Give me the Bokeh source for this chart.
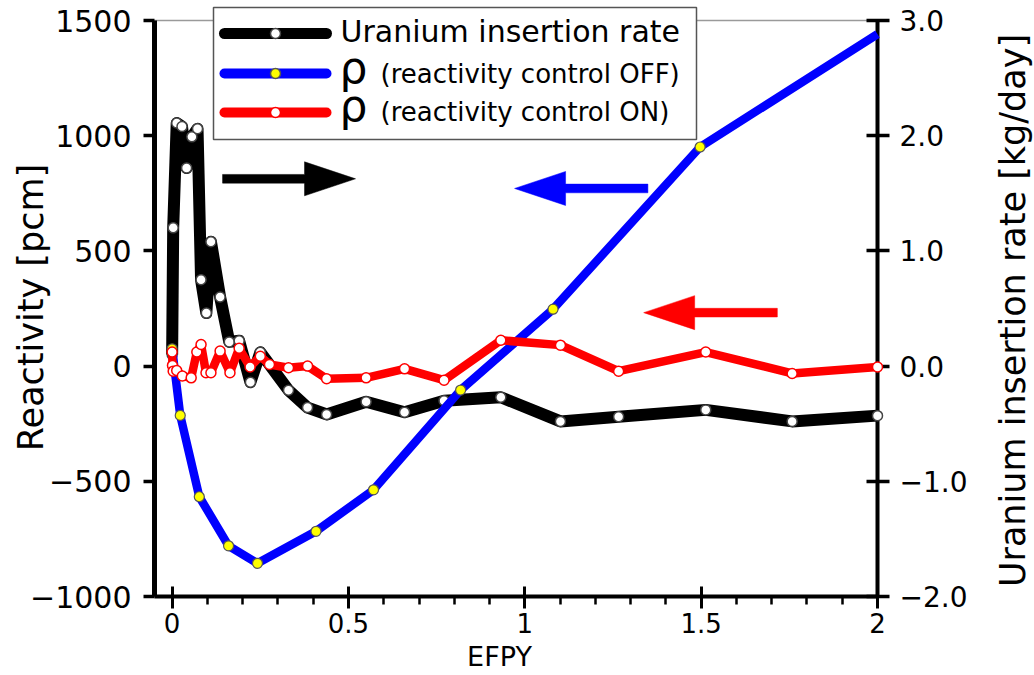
import numpy as np
from bokeh.plotting import figure
from bokeh.models import Range1d, LinearAxis, FixedTicker
from bokeh.core.properties import value
from bokeh.embed import file_html
from bokeh.resources import INLINE

# ---- burnup history (EFPY) ----
# Uranium insertion rate [kg/day]
EFPY_RATE = [0.0, 0.003, 0.013, 0.028, 0.041, 0.056, 0.072, 0.082, 0.097, 0.110,
             0.136, 0.162, 0.190, 0.222, 0.250, 0.330, 0.384, 0.438, 0.550, 0.659,
             0.771, 0.932, 1.101, 1.266, 1.513, 1.758, 2.0]
U_RATE = [0.10, 1.20, 2.11, 2.08, 1.72, 1.99, 2.06, 0.75, 0.46, 1.08,
          0.60, 0.21, 0.22, -0.14, 0.12, -0.21, -0.36, -0.42, -0.31, -0.40,
          -0.30, -0.27, -0.48, -0.44, -0.38, -0.48, -0.43]

# Reactivity [pcm], control OFF
EFPY_OFF = [0.0, 0.023, 0.077, 0.160, 0.242, 0.408, 0.571, 0.818, 1.080, 1.497, 2.0]
RHO_OFF = [75, -214, -567, -780, -856, -717, -537, -104, 247, 951, 1441]

# Reactivity [pcm], control ON
EFPY_ON = [0.0, 0.001, 0.003, 0.013, 0.029, 0.054, 0.070, 0.082, 0.096, 0.110,
           0.136, 0.164, 0.190, 0.221, 0.250, 0.276, 0.330, 0.384, 0.438, 0.550,
           0.659, 0.771, 0.932, 1.101, 1.266, 1.513, 1.758, 2.0]
RHO_ON = [61, 3, -22, -19, -43, -51, 61, 94, -29, -29,
          65, -29, 77, -4, 43, 7, -7, 0, -55, -51,
          -12, -61, 112, 91, -22, 61, -32, -4]

X_TICKS = [0, 0.5, 1, 1.5, 2]
X_TICK_LABELS = ["0", "0.5", "1", "1.5", "2"]
Y_TICKS = [-1000, -500, 0, 500, 1000, 1500]
Y_TICK_LABELS = ["\u22121000", "\u2212500", "0", "500", "1000", "1500"]
R_TICKS = [-2, -1, 0, 1, 2, 3]
R_TICK_LABELS = ["\u22122.0", "\u22121.0", "0.0", "1.0", "2.0", "3.0"]

# ---- canvas geometry ----
W, H = 1034, 675
LEFT, RIGHT, TOP, BOTTOM = 154, 157, 20, 79
X_MIN, X_MAX = -0.05, 2.0
Y_MIN, Y_MAX = -1000, 1500
R_MIN, R_MAX = -2, 3
FW = W - LEFT - RIGHT
FH = H - TOP - BOTTOM
PX_X = FW / (X_MAX - X_MIN)
PX_Y = FH / (Y_MAX - Y_MIN)


def sx(px):
    """canvas pixel column -> EFPY"""
    return X_MIN + (px - LEFT) / PX_X


def sy(py):
    """canvas pixel row -> pcm"""
    return Y_MAX - (py - TOP) / PX_Y


FONT = "DejaVu Sans"

p = figure(width=W, height=H, x_range=Range1d(X_MIN, X_MAX), y_range=Range1d(Y_MIN, Y_MAX),
           output_backend="svg", toolbar_location=None,
           min_border_left=LEFT, min_border_right=RIGHT,
           min_border_top=TOP, min_border_bottom=BOTTOM)
p.grid.visible = False
p.background_fill_color = "white"
p.border_fill_color = "white"
p.outline_line_color = "#9a9a9a"
p.outline_line_width = 1.5

# bottom axis
xa = p.xaxis[0]
xa.ticker = FixedTicker(ticks=X_TICKS, minor_ticks=list(np.round(np.arange(0, 2.01, 0.1), 2)))
xa.major_label_overrides = {t: s for t, s in zip(X_TICKS, X_TICK_LABELS)}
xa.axis_line_width = 4
xa.major_tick_line_width = 3
xa.major_tick_in = 10
xa.major_tick_out = 12
xa.minor_tick_line_width = 2.5
xa.minor_tick_in = 0
xa.minor_tick_out = 8
xa.major_label_text_font = FONT
xa.major_label_text_font_size = "26px"
xa.major_label_text_color = "black"
xa.major_label_standoff = 4

# left axis
ya = p.yaxis[0]
ya.ticker = FixedTicker(ticks=Y_TICKS, minor_ticks=[])
ya.major_label_overrides = {t: s for t, s in zip(Y_TICKS, Y_TICK_LABELS)}
ya.axis_line_width = 5
ya.major_tick_line_width = 3.5
ya.major_tick_in = 0
ya.major_tick_out = 11
ya.major_label_text_font = FONT
ya.major_label_text_font_size = "30px"
ya.major_label_text_color = "black"
ya.major_label_standoff = 12

# right axis: insertion rate
p.extra_y_ranges = {"rate": Range1d(R_MIN, R_MAX)}
ra = LinearAxis(y_range_name="rate", ticker=FixedTicker(ticks=R_TICKS, minor_ticks=[]))
ra.major_label_overrides = {t: s for t, s in zip(R_TICKS, R_TICK_LABELS)}
ra.axis_line_width = 4
ra.major_tick_line_width = 3.5
ra.major_tick_in = 11
ra.major_tick_out = 12
ra.major_label_text_font = FONT
ra.major_label_text_font_size = "28px"
ra.major_label_text_color = "black"
ra.major_label_standoff = 10
p.add_layout(ra, "right")

# axis titles
p.text(x=[sx(30), sx(1012)], y=[sy(307), sy(310)],
       text=["Reactivity [pcm]", "Uranium insertion rate [kg/day]"], angle=np.pi / 2,
       text_align="center", text_baseline="middle",
       text_font=value(FONT), text_font_size=value("35px"), text_color="black", level="overlay")
p.text(x=[sx(499)], y=[sy(656)], text=["EFPY"],
       text_align="center", text_baseline="middle",
       text_font=value(FONT), text_font_size=value("27px"), text_color="black", level="overlay")

# ---- series ----
p.line(EFPY_RATE, U_RATE, y_range_name="rate", line_color="black", line_width=12,
       line_join="round", level="overlay")
p.scatter(EFPY_RATE, U_RATE, y_range_name="rate", size=10, fill_color="white",
          line_color="#444444", line_width=1.5, level="overlay")

p.line(EFPY_OFF, RHO_OFF, line_color="#0000ff", line_width=8.5, line_join="round", level="overlay")
p.scatter(EFPY_OFF[:-1], RHO_OFF[:-1], size=10, fill_color="#ffff00",
          line_color="#555555", line_width=1.2, level="overlay")

p.line(EFPY_ON, RHO_ON, line_color="#ff0000", line_width=8.5, line_join="round", level="overlay")
p.scatter(EFPY_ON, RHO_ON, size=10, fill_color="white",
          line_color="#ff0000", line_width=1.5, level="overlay")

# ---- direction arrows (tail EFPY, tip EFPY, pcm, colour) ----
ARROWS = [(0.143, 0.520, 813, "black"),
          (1.349, 0.971, 771, "#0000ff"),
          (1.716, 1.337, 232, "#ff0000")]
SHAFT_PX, HEAD_LEN_PX, HEAD_HALF_PX = 8.7, 51, 17
axs, ays, acs = [], [], []
for x0, x1, yc, col in ARROWS:
    d = 1 if x1 > x0 else -1
    hb = x1 - d * HEAD_LEN_PX / PX_X
    sw = SHAFT_PX / 2 / PX_Y
    hw = HEAD_HALF_PX / PX_Y
    axs.append([x0, hb, hb, x1, hb, hb, x0])
    ays.append([yc + sw, yc + sw, yc + hw, yc, yc - hw, yc - sw, yc - sw])
    acs.append(col)
p.patches(axs, ays, fill_color=acs, line_color=acs, line_width=0.5, level="overlay")

# ---- legend ----
p.quad(left=sx(213), right=sx(696), top=sy(7), bottom=sy(139), fill_color="white",
       line_color="#555555", line_width=1.5, level="overlay")
rows = [(33, "black", 11, "white", "#444444"),
        (73, "#0000ff", 10, "#ffff00", "#555555"),
        (112, "#ff0000", 10, "white", "#ff0000")]
for ry, lc, lw, mf, ml in rows:
    p.line([sx(224), sx(326)], [sy(ry), sy(ry)], line_color=lc, line_width=lw,
           line_cap="round", level="overlay")
    p.scatter([sx(275)], [sy(ry)], size=10, fill_color=mf, line_color=ml,
              line_width=1.5, level="overlay")

p.text(x=[sx(340)], y=[sy(31)], text=["Uranium insertion rate"],
       text_font=value(FONT), text_font_size=value("30px"), text_color="black",
       text_baseline="middle", level="overlay")
p.text(x=[sx(339), sx(339)], y=[sy(67), sy(105)], text=["\u03c1", "\u03c1"],
       text_font=value(FONT), text_font_size=value("44px"), text_color="black",
       text_baseline="middle", level="overlay")
p.text(x=[sx(380), sx(380)], y=[sy(73), sy(111)],
       text=["(reactivity control OFF)", "(reactivity control ON)"],
       text_font=value(FONT), text_font_size=value("26px"), text_color="black",
       text_baseline="middle", level="overlay")

open("out.html", "w").write(file_html(p, INLINE))
